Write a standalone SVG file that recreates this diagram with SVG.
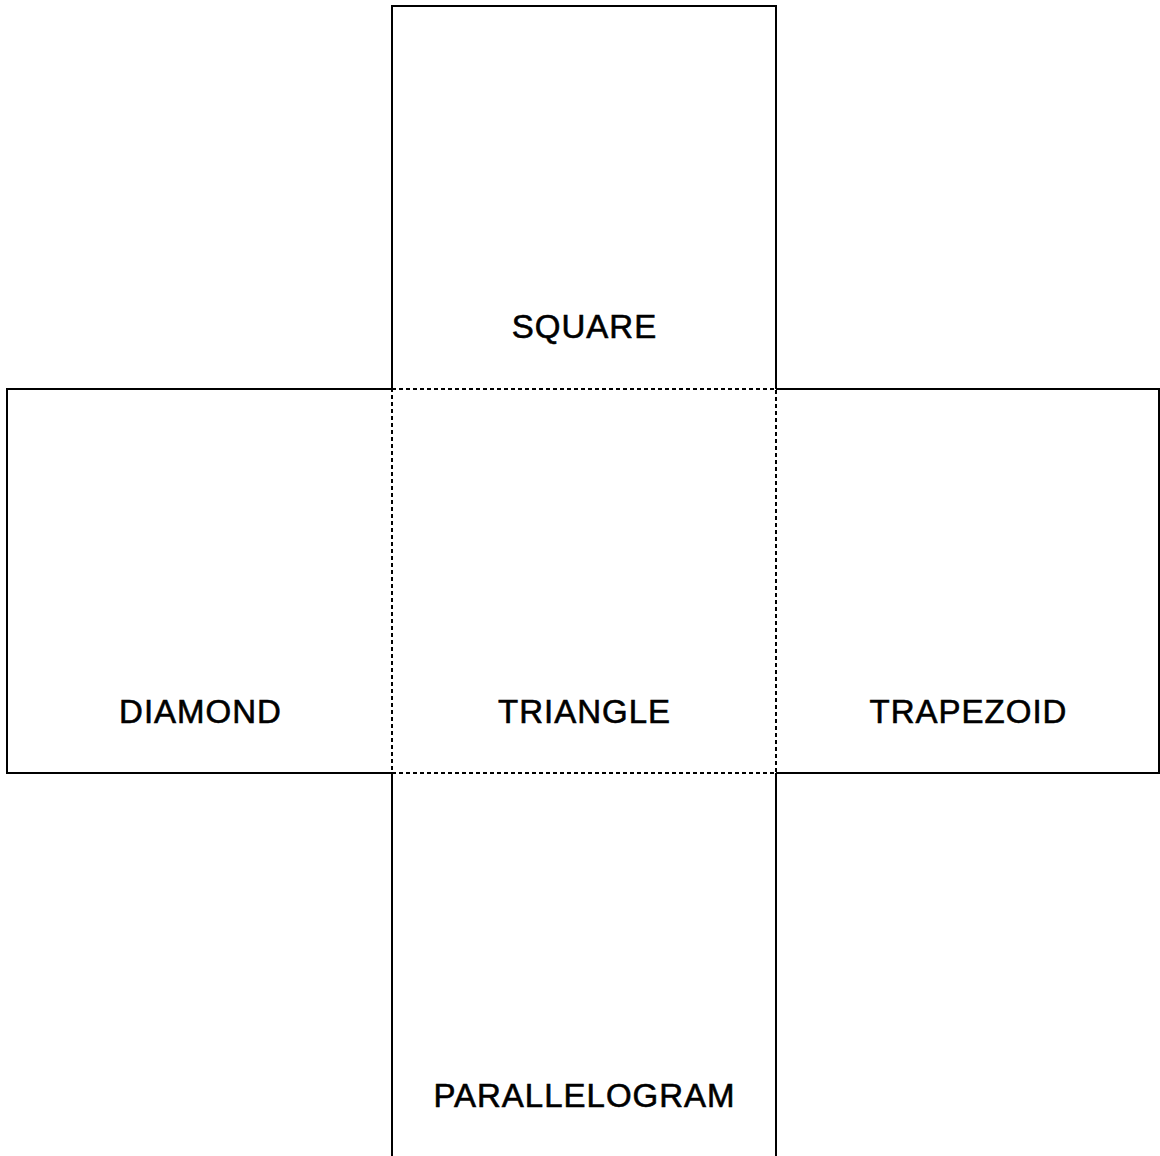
<svg xmlns="http://www.w3.org/2000/svg" width="1160" height="1156" viewBox="0 0 1160 1156">
<style>
.face{fill:none;stroke:#000;stroke-width:2}
.fold{fill:none;stroke:#000;stroke-width:2;stroke-dasharray:4,3}
.lbl{font-family:"Liberation Sans",Arial,sans-serif;font-size:33px;letter-spacing:1px;fill:#000;stroke:#000;stroke-width:0.6;text-anchor:middle}
</style>
<rect width="1160" height="1156" fill="#fff"/>
<g id="square">
<path class="face" d="M392,389 V6 H776 V389"/>
<text class="lbl" x="584.5" y="338">SQUARE</text>
</g>
<g id="diamond">
<path class="face" d="M392,389 H7 V773 H392"/>
<text class="lbl" x="200.5" y="723">DIAMOND</text>
</g>
<g id="trapezoid">
<path class="face" d="M776,389 H1159 V773 H776"/>
<text class="lbl" x="968.5" y="723">TRAPEZOID</text>
</g>
<g id="parallelogram">
<path class="face" d="M392,773 V1160 M776,773 V1160"/>
<text class="lbl" x="584.5" y="1107">PARALLELOGRAM</text>
</g>
<g id="triangle">
<rect class="fold" x="392" y="389" width="384" height="384"/>
<text class="lbl" x="584.5" y="723">TRIANGLE</text>
</g>
<g id="connectors"></g>
</svg>
